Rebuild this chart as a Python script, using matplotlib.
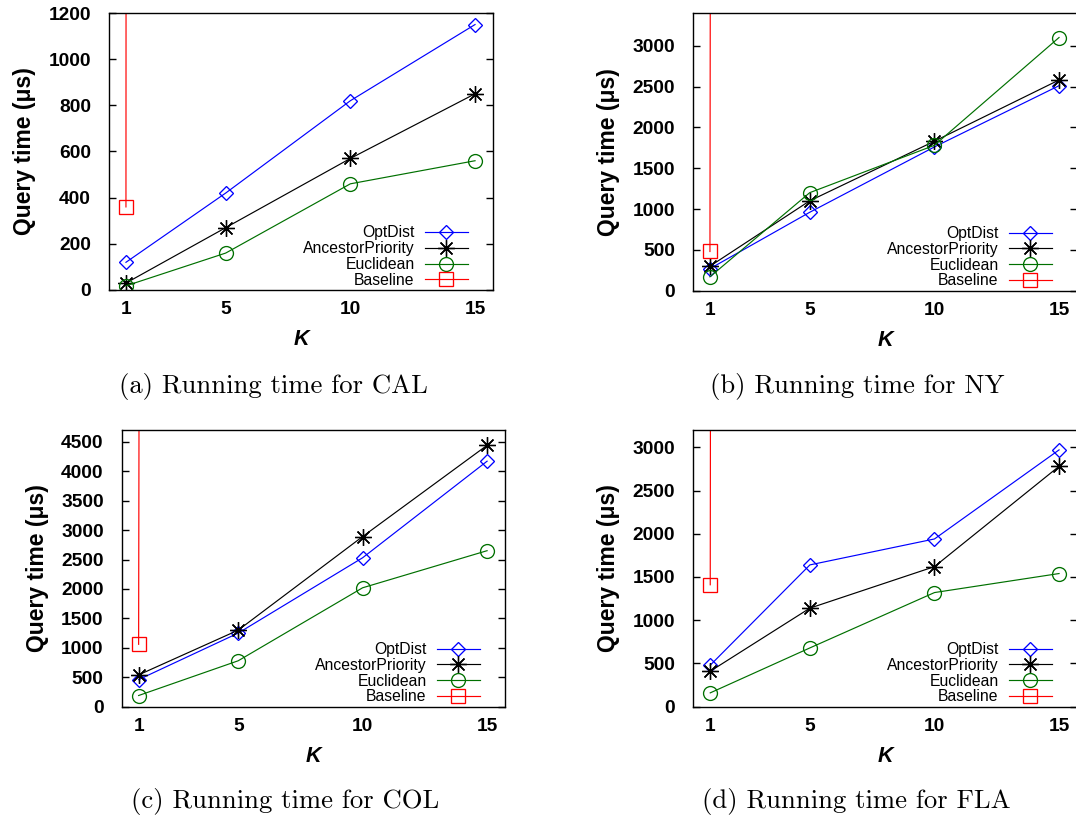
import numpy as np
import matplotlib
matplotlib.use("Agg")
import matplotlib.pyplot as plt

plt.rcParams['font.family'] = ['Liberation Sans', 'DejaVu Sans']

K = [1, 5, 10, 15]

series_names = ["OptDist", "AncestorPriority", "Euclidean", "Baseline"]
series_colors = ["#0000ff", "#000000", "#007000", "#ff0000"]
series_markers = ["D", (8, 2, 0), "o", "s"]
series_msize = [7.3, 12.0, 10.0, 10.0]

# CAL
cal_optdist = [120, 420, 820, 1150]
cal_ancestor = [30, 270, 570, 850]
cal_euclidean = [18, 160, 460, 560]
cal_baseline = [360, 1.0e6, 2.0e6, 3.0e6]

# NY
ny_optdist = [270, 960, 1760, 2510]
ny_ancestor = [300, 1100, 1830, 2580]
ny_euclidean = [170, 1200, 1780, 3100]
ny_baseline = [480, 1.0e6, 2.0e6, 3.0e6]

# COL
col_optdist = [460, 1250, 2530, 4170]
col_ancestor = [540, 1300, 2890, 4440]
col_euclidean = [190, 780, 2020, 2650]
col_baseline = [1060, 1.0e6, 2.0e6, 3.0e6]

# FLA
fla_optdist = [480, 1640, 1940, 2970]
fla_ancestor = [410, 1140, 1620, 2780]
fla_euclidean = [160, 680, 1320, 1540]
fla_baseline = [1410, 1.0e6, 2.0e6, 3.0e6]

captions = ["(a) Running time for CAL", "(b) Running time for NY",
            "(c) Running time for COL", "(d) Running time for FLA"]
y_limits = [1200, 3400, 4700, 3200]
y_steps = [200, 500, 500, 500]

panels = [
    (cal_optdist, cal_ancestor, cal_euclidean, cal_baseline),
    (ny_optdist, ny_ancestor, ny_euclidean, ny_baseline),
    (col_optdist, col_ancestor, col_euclidean, col_baseline),
    (fla_optdist, fla_ancestor, fla_euclidean, fla_baseline),
]

W, H = 1076, 822
fig = plt.figure(figsize=(W / 100, H / 100), dpi=100)

# axes boxes in pixels: left, top, right, bottom
boxes = [
    (109, 13, 493, 290),
    (693, 13, 1077, 290.7),
    (121.7, 430, 505, 706.7),
    (693.3, 430, 1077, 706.7),
]
caption_pos = [(273, 386), (857, 386), (285, 801), (856, 801)]

for i, (box, data) in enumerate(zip(boxes, panels)):
    l, t, r, b = box
    ax = fig.add_axes([l / W, 1 - b / H, (r - l) / W, (b - t) / H])
    for vals, name, col, mk, ms in zip(data, series_names, series_colors,
                                       series_markers, series_msize):
        ax.plot(K, vals, color=col, lw=0.85, marker=mk, ms=ms,
                markerfacecolor='none', markeredgecolor=col,
                markeredgewidth=0.95, label=name)
    ax.set_xlim(0.32, 15.72)
    ax.set_ylim(0, y_limits[i])
    ax.set_xticks(K)
    ax.set_yticks(np.arange(0, y_limits[i] + 1, y_steps[i]))
    ax.tick_params(axis='y', direction='in', length=5, width=1,
                   left=True, right=True, labelsize=13.8, pad=13)
    ax.tick_params(axis='x', length=0, labelsize=13.8, pad=8)
    for lab in ax.get_xticklabels() + ax.get_yticklabels():
        lab.set_fontweight('bold')
    for sp in ax.spines.values():
        sp.set_linewidth(1.0)
    ax.set_xlabel("K", fontsize=15.5, fontweight='bold', style='italic',
                  labelpad=8)
    ax.set_ylabel("Query time (\u03bcs)", fontsize=16.5, fontweight='bold',
                  labelpad=9)
    ax.legend(loc='lower right', bbox_to_anchor=(1 - 25 / (r - l), 0.008),
              frameon=False, markerfirst=False, fontsize=11.3,
              handlelength=2.75, handletextpad=0.65, labelspacing=0.05,
              borderpad=0, borderaxespad=0, numpoints=1)
    cx, cy = caption_pos[i]
    fig.text(cx / W, 1 - cy / H, captions[i], family='cmr10', fontsize=19.2,
             ha='center', va='center')

fig.savefig("out.png", dpi=100)
